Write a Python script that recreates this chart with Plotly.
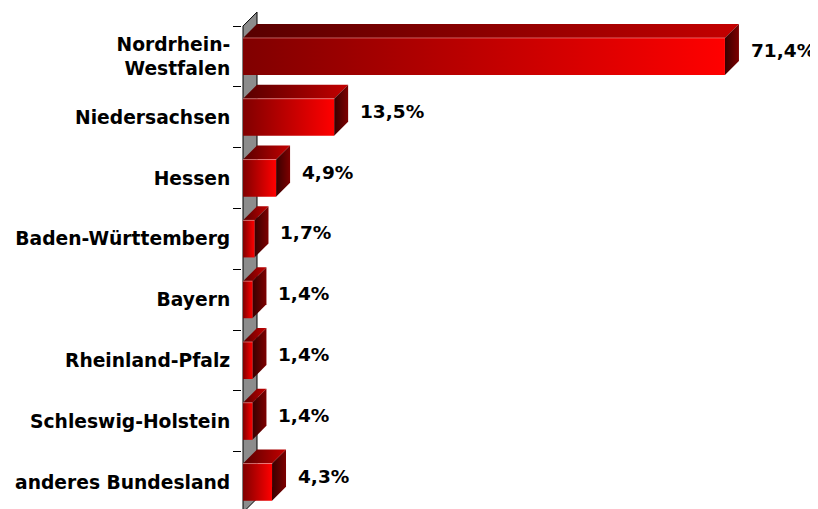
import plotly.graph_objects as go

# ---- data ----
categories = ["Nordrhein-<br>Westfalen", "Niedersachsen", "Hessen", "Baden-Württemberg",
              "Bayern", "Rheinland-Pfalz", "Schleswig-Holstein", "anderes Bundesland"]
values = [71.4, 13.5, 4.9, 1.7, 1.4, 1.4, 1.4, 4.3]
value_labels = ["71,4%", "13,5%", "4,9%", "1,7%", "1,4%", "1,4%", "1,4%", "4,3%"]

# ---- geometry / style ----
PAGE_OFF = 8             # browser body margin
PW, PH = 818, 509        # page (window) size
W, H = PW - PAGE_OFF, PH - PAGE_OFF
plot_left_pg, plot_right_pg, plot_top_pg, plot_bot_pg = 242, 800, 8, 509
ml = plot_left_pg - PAGE_OFF
mr = W - (plot_right_pg - PAGE_OFF)
mt = plot_top_pg - PAGE_OFF
mb = H - (plot_bot_pg - PAGE_OFF)

px_per_x = 6.75          # pixels per percent
px_per_cat = 60.8        # pixels per category
zero_px = 243            # page column of value 0
center0_px = 56.5        # page row of first category centre
x0 = (plot_left_pg - zero_px) / px_per_x
x1 = (plot_right_pg - zero_px) / px_per_x
y_top = (plot_top_pg - center0_px) / px_per_cat
y_bot = (plot_bot_pg - center0_px) / px_per_cat

depth_px = 14
dx = depth_px / px_per_x
dy = depth_px / px_per_cat
half = 0.305             # half bar thickness (category units)

FONT = "DejaVu Sans"
front_scale = [[0, "#800000"], [1, "#ff0000"]]
top_scale = [[0, "#580000"], [1, "#c40000"]]
side_scale = [[0, "#380000"], [1, "#7e0000"]]

fig = go.Figure()

# back wall (left side wall of the 3D frame)
n = len(categories)
wall_x = [0, dx, dx, 0, 0]
wall_y = [-0.5, -0.5 - dy, n - 0.5 - dy, n - 0.5, -0.5]
fig.add_trace(go.Scatter(x=wall_x, y=wall_y, mode="lines", fill="toself",
                         fillcolor="#8c8c8c", line=dict(color="black", width=1),
                         hoverinfo="skip"))


def poly(xs, ys, scale):
    fig.add_trace(go.Scatter(
        x=xs + [xs[0]], y=ys + [ys[0]], mode="lines", fill="toself",
        fillgradient=dict(type="horizontal", colorscale=scale),
        line=dict(width=0, color="rgba(0,0,0,0)"), hoverinfo="skip"))


for i, v in enumerate(values):
    yt, yb = i - half, i + half
    # top face
    poly([0, v, v + dx, dx], [yt, yt, yt - dy, yt - dy], top_scale)
    # side face
    poly([v, v + dx, v + dx, v], [yt, yt - dy, yb - dy, yb], side_scale)
    # front face
    poly([0, v, v, 0], [yt, yt, yb, yb], front_scale)
    # light highlight along the front-top edge
    fig.add_trace(go.Scatter(x=[0, v], y=[yt, yt], mode="lines",
                             line=dict(color="rgba(255,170,170,0.55)", width=1),
                             hoverinfo="skip"))
    fig.add_annotation(x=v, y=i, xref="x", yref="y", text=value_labels[i],
                       showarrow=False, xanchor="left", xshift=24, yshift=6,
                       font=dict(family=FONT, size=18.5, color="black", weight="bold"))

fig.update_layout(
    width=W, height=H, showlegend=False,
    margin=dict(l=ml, r=mr, t=mt, b=mb, pad=0, autoexpand=False),
    plot_bgcolor="white", paper_bgcolor="white",
    xaxis=dict(range=[x0, x1], visible=False, fixedrange=True, automargin=False),
    yaxis=dict(range=[y_bot, y_top], tickmode="array", automargin=False,
               tickvals=list(range(n)), ticktext=categories,
               ticks="outside", ticklen=7, tickcolor="rgba(0,0,0,0)",
               showgrid=False, zeroline=False, showline=False,
               tickfont=dict(family=FONT, size=18.7, color="black", weight="bold"),
               minor=dict(tickmode="array",
                          tickvals=[k - 0.5 for k in range(n + 1)],
                          ticks="outside", ticklen=8, tickcolor="black",
                          tickwidth=1, showgrid=False)),
)

fig.write_html("out.html")
